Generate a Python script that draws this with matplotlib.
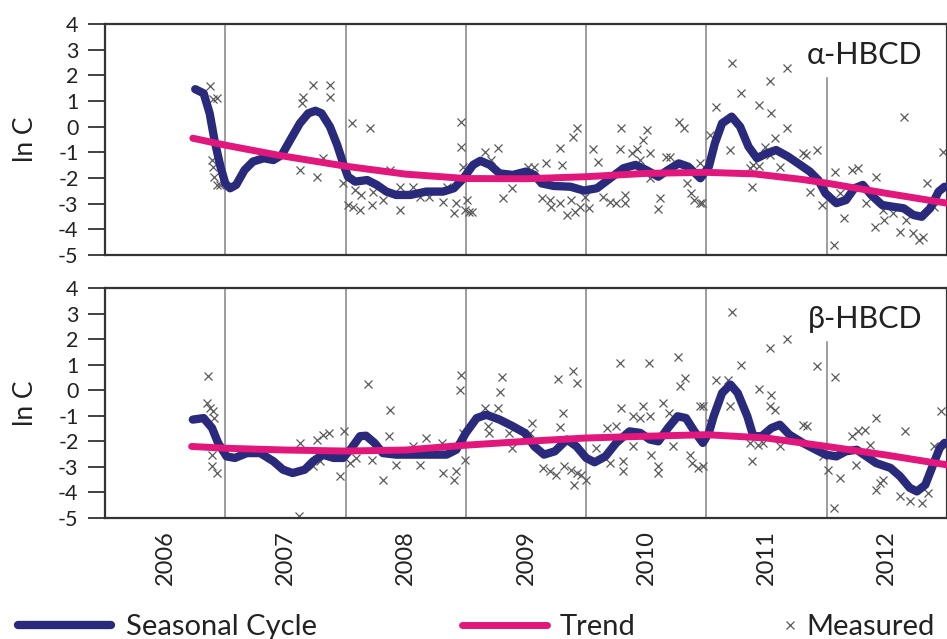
import matplotlib
matplotlib.use("Agg")
import matplotlib.pyplot as plt
from matplotlib.lines import Line2D

plt.rcParams['font.family'] = ['Lato', 'Open Sans', 'DejaVu Sans']
plt.rcParams['axes.unicode_minus'] = False

# ---------------- data ----------------
years = [2006, 2007, 2008, 2009, 2010, 2011, 2012]
year_labels = ["2006", "2007", "2008", "2009", "2010", "2011", "2012"]
year_boundaries = [2007, 2008, 2009, 2010, 2011, 2012]

alpha_cycle_x = [2006.75, 2006.82, 2006.87, 2006.91, 2006.96, 2007.00, 2007.04, 2007.09, 2007.16, 2007.23,
                 2007.32, 2007.40, 2007.47, 2007.54, 2007.62, 2007.69, 2007.75, 2007.80, 2007.87, 2007.93,
                 2007.98, 2008.02, 2008.08, 2008.18, 2008.26, 2008.34, 2008.42, 2008.54, 2008.67, 2008.81,
                 2008.90, 2008.98, 2009.06, 2009.12, 2009.20, 2009.28, 2009.39, 2009.50, 2009.57, 2009.63,
                 2009.73, 2009.87, 2009.98, 2010.09, 2010.20, 2010.31, 2010.41, 2010.50, 2010.60, 2010.68,
                 2010.77, 2010.85, 2010.95, 2011.02, 2011.07, 2011.13, 2011.21, 2011.28, 2011.35, 2011.42,
                 2011.50, 2011.58, 2011.68, 2011.78, 2011.86, 2011.93, 2011.99, 2012.08, 2012.16, 2012.23,
                 2012.30, 2012.37, 2012.46, 2012.55, 2012.64, 2012.72, 2012.79, 2012.86, 2012.93, 2012.98]
alpha_cycle_y = [1.46, 1.30, 0.52, -0.52, -1.56, -2.21, -2.40, -2.27, -1.69, -1.36,
                 -1.23, -1.30, -1.10, -0.52, 0.13, 0.52, 0.62, 0.52, 0.00, -0.71,
                 -1.43, -1.95, -2.14, -2.08, -2.27, -2.53, -2.66, -2.66, -2.53, -2.53,
                 -2.40, -2.01, -1.49, -1.33, -1.49, -1.82, -1.88, -1.75, -1.88, -2.21,
                 -2.31, -2.34, -2.49, -2.40, -2.01, -1.62, -1.49, -1.69, -1.95, -1.69,
                 -1.43, -1.56, -2.01, -1.56, -0.65, 0.13, 0.39, 0.00, -0.78, -1.23,
                 -1.04, -0.91, -1.17, -1.49, -1.75, -2.08, -2.60, -2.98, -2.86, -2.40,
                 -2.27, -2.66, -3.05, -3.12, -3.18, -3.44, -3.51, -3.18, -2.53, -2.34]

alpha_trend_x = [2006.73, 2007.0, 2007.45, 2008.0, 2008.5, 2009.0, 2009.5, 2010.0, 2010.5, 2011.0,
                 2011.4, 2011.8, 2012.0, 2012.5, 2013.0]
alpha_trend_y = [-0.45, -0.72, -1.12, -1.54, -1.85, -2.02, -2.03, -1.95, -1.82, -1.78,
                 -1.84, -2.06, -2.20, -2.60, -2.98]

alpha_meas_x = [2006.87, 2006.90, 2006.93, 2006.89, 2006.90, 2006.91, 2006.93, 2006.96,
                2007.73, 2007.87, 2007.87, 2007.65, 2007.64, 2007.62, 2007.76, 2007.81,
                2008.05, 2008.20, 2007.98, 2008.02, 2008.06, 2008.12, 2008.08, 2008.13, 2008.22, 2008.23,
                2008.31, 2008.37, 2008.45, 2008.45, 2008.56, 2008.62, 2008.69, 2008.81, 2008.84, 2008.90,
                2008.92, 2008.96, 2008.96, 2008.98, 2009.01, 2009.03, 2008.99,
                2009.05, 2009.16, 2009.27, 2009.21, 2009.38, 2009.31, 2009.52, 2009.57, 2009.67, 2009.78,
                2009.80, 2009.92, 2009.89, 2009.63, 2009.70, 2009.71, 2009.78, 2009.84, 2009.87, 2009.91,
                2009.95, 2009.99, 2010.02, 2010.06, 2010.10, 2010.14, 2010.20, 2010.25, 2010.32, 2010.32,
                2010.29, 2010.28, 2010.38, 2010.42, 2010.47, 2010.51, 2010.53, 2010.45, 2010.53, 2010.61,
                2010.60, 2010.66, 2010.70, 2010.77, 2010.81, 2010.84, 2010.87, 2010.90, 2010.96, 2010.95,
                2011.03, 2011.08, 2011.21, 2011.67, 2011.53, 2011.29, 2011.44, 2011.54, 2011.67, 2011.57,
                2011.20, 2011.49, 2011.53, 2011.80, 2011.92, 2011.83, 2011.39, 2011.36, 2011.44, 2011.61,
                2011.38, 2011.86, 2010.95, 2011.96, 2012.07, 2012.21, 2012.26, 2012.41, 2012.11, 2012.33,
                2012.14, 2012.40, 2012.47, 2012.55, 2012.48, 2012.61, 2012.72, 2012.77, 2012.80, 2012.66,
                2012.06, 2012.64, 2012.83, 2012.97, 2012.89]
alpha_meas_y = [1.58, 1.07, 1.10, -1.30, -1.56, -1.95, -2.27, -2.27,
                1.62, 1.62, 1.14, 1.17, 0.91, -1.69, -1.95, -1.23,
                0.16, -0.04, -2.18, -3.05, -3.12, -3.25, -2.47, -2.66, -3.05, -2.53,
                -2.86, -1.69, -3.25, -2.34, -2.34, -2.73, -2.73, -2.92, -2.34, -3.37,
                -2.98, 0.19, -0.78, -1.56, -2.86, -3.31, -3.25,
                -3.31, -0.97, -0.84, -1.30, -2.40, -2.79, -1.56, -1.56, -1.43, -0.84,
                -1.49, -0.06, -0.41, -2.79, -2.86, -3.12, -2.98, -3.44, -2.86, -3.31,
                -3.12, -2.73, -3.18, -0.88, -1.36, -2.73, -2.92, -2.98, -2.66, -2.98,
                -0.06, -0.88, -1.04, -0.88, -0.52, -0.13, -1.04, -1.30, -2.01, -2.79,
                -3.22, -1.17, -1.17, 0.19, -0.06, -2.21, -2.60, -2.86, -2.98, -1.43,
                -0.32, 0.78, 2.49, 2.27, 1.78, 1.30, 0.84, 0.52, -0.06, -0.45,
                -0.91, -0.78, -1.10, -1.04, -0.91, -1.10, -1.49, -1.62, -1.53, -1.56,
                -2.34, -2.53, -2.98, -3.05, -1.75, -1.69, -1.62, -1.95, -2.60, -2.98,
                -3.57, -3.90, -3.25, -3.37, -3.64, -4.09, -4.15, -4.41, -4.28, -3.64,
                -4.61, 0.39, -2.21, -0.97, -3.12]

beta_cycle_x = [2006.73, 2006.82, 2006.89, 2006.94, 2007.01, 2007.08, 2007.18, 2007.29, 2007.40, 2007.48,
                2007.56, 2007.66, 2007.73, 2007.81, 2007.90, 2007.98, 2008.05, 2008.12, 2008.17, 2008.24,
                2008.31, 2008.42, 2008.56, 2008.70, 2008.84, 2008.92, 2009.00, 2009.09, 2009.17, 2009.28,
                2009.39, 2009.49, 2009.57, 2009.65, 2009.74, 2009.84, 2009.92, 2010.00, 2010.07, 2010.16,
                2010.25, 2010.36, 2010.45, 2010.53, 2010.60, 2010.68, 2010.76, 2010.83, 2010.90, 2010.97,
                2011.02, 2011.06, 2011.13, 2011.20, 2011.26, 2011.34, 2011.39, 2011.46, 2011.54, 2011.61,
                2011.69, 2011.80, 2011.91, 2011.99, 2012.08, 2012.16, 2012.25, 2012.33, 2012.41, 2012.53,
                2012.61, 2012.69, 2012.75, 2012.82, 2012.89, 2012.94, 2012.98]
beta_cycle_y = [-1.15, -1.09, -1.48, -2.06, -2.59, -2.65, -2.46, -2.46, -2.78, -3.11,
                -3.24, -3.11, -2.78, -2.52, -2.65, -2.65, -2.26, -1.80, -1.78, -2.06,
                -2.46, -2.52, -2.52, -2.52, -2.52, -2.33, -1.67, -1.09, -0.96, -1.15,
                -1.41, -1.67, -2.20, -2.52, -2.39, -1.93, -2.20, -2.65, -2.82, -2.59,
                -2.06, -1.61, -1.67, -1.93, -2.00, -1.48, -1.02, -1.09, -1.61, -2.06,
                -1.67, -1.02, -0.11, 0.22, -0.11, -1.02, -1.80, -1.80, -1.48, -1.35,
                -1.74, -2.06, -2.33, -2.52, -2.59, -2.39, -2.33, -2.59, -2.85, -3.04,
                -3.37, -3.82, -3.96, -3.70, -2.85, -2.26, -2.06]

beta_trend_x = [2006.72, 2007.0, 2007.5, 2008.0, 2008.5, 2009.0, 2009.5, 2010.0, 2010.5, 2011.0,
                2011.5, 2012.0, 2012.5, 2013.0]
beta_trend_y = [-2.20, -2.27, -2.34, -2.38, -2.34, -2.15, -2.00, -1.87, -1.80, -1.74,
                -1.87, -2.20, -2.54, -2.92]

beta_meas_x = [2006.86, 2006.85, 2006.87, 2006.90, 2006.91, 2006.89, 2006.89, 2006.93,
               2007.61, 2007.62, 2007.76, 2007.81, 2007.86, 2007.73, 2007.79, 2007.95, 2007.99, 2008.04,
               2008.09, 2008.19, 2008.37, 2008.36, 2008.22, 2008.31, 2008.42, 2008.56, 2008.67, 2008.62,
               2008.81, 2008.90, 2008.92, 2008.96, 2008.95, 2008.98, 2008.99, 2008.80,
               2009.16, 2009.27, 2009.30, 2009.28, 2009.18, 2009.19, 2009.38, 2009.36, 2009.55, 2009.53,
               2009.77, 2009.89, 2009.92, 2009.81, 2009.78, 2009.64, 2009.70, 2009.75, 2009.82, 2009.87,
               2009.92, 2009.96, 2010.00, 2009.90, 2010.08, 2010.17, 2010.25, 2010.20, 2010.31, 2010.31,
               2010.28, 2010.52, 2010.29, 2010.47, 2010.39, 2010.45, 2010.53, 2010.39, 2010.54, 2010.60,
               2010.60, 2010.64, 2010.69, 2010.76, 2010.82, 2010.78, 2010.72, 2010.86, 2010.88, 2010.93,
               2010.95, 2011.03, 2011.08,
               2011.21, 2011.67, 2011.53, 2011.29, 2011.92, 2012.07, 2011.18, 2011.44, 2011.54, 2011.53,
               2011.57, 2010.97, 2011.20, 2011.80, 2011.84, 2011.36, 2011.43, 2011.47, 2011.38, 2011.61,
               2010.97, 2011.97, 2012.01, 2012.41, 2012.65, 2012.21, 2012.26, 2012.32, 2012.36, 2012.11,
               2012.24, 2012.41, 2012.47, 2012.44, 2012.61, 2012.69, 2012.79, 2012.06, 2012.84, 2012.95,
               2012.89]
beta_meas_y = [0.54, -0.50, -0.69, -0.83, -1.09, -2.52, -2.98, -3.24,
               -4.94, -2.06, -1.93, -1.74, -1.67, -2.98, -2.78, -3.37, -1.61, -2.85,
               -2.65, 0.26, -0.76, -1.80, -2.72, -3.50, -2.91, -2.20, -1.87, -2.91,
               -3.24, -3.50, -3.18, 0.60, 0.02, -1.67, -2.72, -2.06,
               -0.69, -0.69, 0.52, -0.08, -1.41, -1.67, -2.26, -1.67, -1.28, -1.67,
               0.44, 0.74, 0.28, -0.89, -1.44, -3.04, -3.18, -3.31, -2.98, -3.11,
               -3.24, -3.31, -3.50, -3.70, -2.26, -1.48, -1.41, -2.85, -2.78, -3.18,
               1.07, 1.07, -0.69, -0.63, -1.02, -1.09, -1.02, -2.20, -2.52, -2.98,
               -3.24, -0.50, -0.89, 1.30, 0.48, 0.15, -2.20, -2.52, -2.85, -3.04,
               -0.63, -1.28, 0.41,
               3.05, 2.00, 1.65, 1.00, 0.93, 0.52, 0.41, 0.05, -0.17, -0.63,
               -0.76, -0.63, -0.63, -1.35, -1.41, -2.06, -2.13, -2.06, -2.78, -2.20,
               -2.98, -2.59, -3.11, -1.09, -1.61, -1.80, -1.61, -1.54, -2.13, -3.43,
               -2.91, -3.89, -3.50, -3.63, -4.15, -4.35, -4.41, -4.61, -4.02, -0.83,
               -2.20]

# ---------------- styling ----------------
NAVY = '#2a2a7c'
MAGENTA = '#e2177b'
GRID = '#8c8c8c'
SPINE = '#333333'
TXT = '#222222'

fig = plt.figure(figsize=(9.47, 6.39), dpi=100)
W, H = 947, 639
ax_top = fig.add_axes([105 / W, 1 - 255 / H, 842 / W, 231 / H])
ax_bot = fig.add_axes([105 / W, 1 - 518 / H, 842 / W, 230 / H])

panels = [
    (ax_top, alpha_cycle_x, alpha_cycle_y, alpha_trend_x, alpha_trend_y, alpha_meas_x, alpha_meas_y, 'α-HBCD'),
    (ax_bot, beta_cycle_x, beta_cycle_y, beta_trend_x, beta_trend_y, beta_meas_x, beta_meas_y, 'β-HBCD'),
]

for ax, cx, cy, tx, ty, mx, my, label in panels:
    ax.set_xlim(2006, 2013)
    ax.set_ylim(-5, 4)
    for b in year_boundaries:
        top = 0.766 if b == 2012 else 1.0
        ax.axvline(b, ymin=0, ymax=top, color=GRID, lw=1.2, zorder=1)
    ax.plot(mx, my, linestyle='none', marker='x', markersize=5.5, mew=0.9,
            color='#5a5a5a', zorder=2)
    ax.plot(cx, cy, color=NAVY, lw=6.0, solid_capstyle='round', solid_joinstyle='round', zorder=3)
    ax.plot(tx, ty, color=MAGENTA, lw=5.0, solid_capstyle='round', solid_joinstyle='round', zorder=4)
    ax.set_yticks(range(-5, 5))
    ax.tick_params(axis='y', direction='out', length=12, width=1.3, color=SPINE,
                   labelsize=15.5, labelcolor=TXT, pad=7)
    for s in ax.spines.values():
        s.set_color(SPINE)
        s.set_linewidth(1.6)
    ax.set_ylabel('ln C', fontsize=19, color=TXT)
    ax.yaxis.set_label_coords(-0.079, 0.5)
    ax.text(0.971, 0.866, label, transform=ax.transAxes, ha='right', va='center',
            fontsize=22, color=TXT, zorder=5)

ax_top.set_xticks([])
ax_bot.set_xticks([y + 0.5 for y in years])
ax_bot.set_xticklabels(year_labels, rotation=90, fontsize=17, color=TXT)
ax_bot.tick_params(axis='x', length=0, pad=9)

# legend (three separate groups like the reference)
h1 = Line2D([], [], color=NAVY, lw=6.0, solid_capstyle='round')
h2 = Line2D([], [], color=MAGENTA, lw=5.0, solid_capstyle='round')
h3 = Line2D([], [], linestyle='none', marker='x', markersize=5.5, mew=0.9, color='#5a5a5a')
kw = dict(frameon=False, loc='center left', borderpad=0, borderaxespad=0,
          fontsize=21, labelcolor=TXT)
ly = 1 - 627 / H
fig.legend([h1], ['Seasonal Cycle'], bbox_to_anchor=(18 / W, ly),
           handlelength=3.2, handletextpad=0.5, **kw)
fig.legend([h2], ['Trend'], bbox_to_anchor=(462 / W, ly),
           handlelength=2.9, handletextpad=0.45, **kw)
fig.legend([h3], ['Measured'], bbox_to_anchor=(783 / W, ly),
           handlelength=0.5, handletextpad=0.3, **kw)

fig.savefig('out.png', dpi=100, facecolor='white')
